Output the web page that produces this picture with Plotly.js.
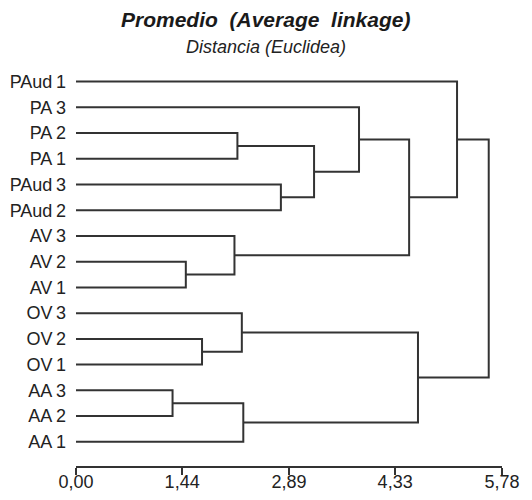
<!DOCTYPE html>
<html>
<head>
<meta charset="utf-8">
<script src="https://cdn.plot.ly/plotly-3.0.1.min.js"></script>
<style>html,body{margin:0;padding:0;background:#fff;}#chart{width:532px;height:500px;}</style>
</head>
<body>
<div id="chart"></div>
<script>
// Leaves, top to bottom
const leafLabels = ["PAud\u20091","PA\u20093","PA\u20092","PA\u20091","PAud\u20093","PAud\u20092","AV\u20093","AV\u20092","AV\u20091","OV\u20093","OV\u20092","OV\u20091","AA\u20093","AA\u20092","AA\u20091"];
// Merges: node ids 0..14 are leaves, 15+ are clusters in merge order
const mergeA = [2, 4, 15, 1, 7, 6, 18, 0, 10, 9, 12, 25, 24, 22];
const mergeB = [3, 5, 16, 17, 8, 19, 20, 21, 11, 23, 13, 14, 26, 27];
const mergeHeight = [2.19, 2.78, 3.23, 3.84, 1.49, 2.15, 4.52, 5.17, 1.71, 2.25, 1.31, 2.27, 4.64, 5.60];
// Axis ticks
const tickVals = [0, 1.44, 2.89, 4.33, 5.78];
const tickText = ["0,00", "1,44", "2,89", "4,33", "5,78"];

const n = leafLabels.length;
const nodeY = [], nodeH = [];
for (let i = 0; i < n; i++) { nodeY.push(i); nodeH.push(0); }
const xs = [], ys = [];
for (let k = 0; k < mergeA.length; k++) {
  const a = mergeA[k], b = mergeB[k], h = mergeHeight[k];
  xs.push(nodeH[a], h, h, nodeH[b], null);
  ys.push(nodeY[a], nodeY[a], nodeY[b], nodeY[b], null);
  nodeY.push((nodeY[a] + nodeY[b]) / 2);
  nodeH.push(h);
}

const FONT = '"Liberation Sans", Arial, sans-serif';
const trace = {
  x: xs, y: ys, type: 'scatter', mode: 'lines',
  line: {color: '#333333', width: 2}, hoverinfo: 'skip', showlegend: false
};
const layout = {
  width: 532, height: 500,
  margin: {l: 76, r: 30, t: 70, b: 34, pad: 0},
  paper_bgcolor: '#ffffff', plot_bgcolor: '#ffffff',
  font: {family: FONT, color: '#222222', size: 18},
  showlegend: false,
  xaxis: {
    range: [0, 5.78], tickvals: tickVals, ticktext: tickText,
    ticks: 'outside', ticklen: 7, tickwidth: 1.5, tickcolor: '#333333',
    showline: true, linecolor: '#333333', linewidth: 1.5,
    showgrid: false, zeroline: false, fixedrange: true,
    ticklabelstandoff: -8,
    tickfont: {family: FONT, size: 18, color: '#222222'}
  },
  yaxis: {
    range: [14.94, -0.45], tickvals: leafLabels.map((_, i) => i), ticktext: leafLabels,
    ticks: '', showline: false, showgrid: false, zeroline: false, fixedrange: true,
    ticklabelstandoff: 9,
    tickfont: {family: FONT, size: 18, color: '#222222'}
  },
  annotations: [
    {text: '<b><i>Promedio\u00a0\u00a0(Average\u00a0\u00a0linkage)</i></b>', xref: 'paper', yref: 'paper',
     x: 0.446, y: (466 - 20) / 396, xanchor: 'center', yanchor: 'middle', showarrow: false,
     font: {family: FONT, size: 21, color: '#1a1a1a'}},
    {text: '<i>Distancia (Euclidea)</i>', xref: 'paper', yref: 'paper',
     x: 0.446, y: (466 - 47) / 396, xanchor: 'center', yanchor: 'middle', showarrow: false,
     font: {family: FONT, size: 18, color: '#222222'}}
  ]
};
Plotly.newPlot('chart', [trace], layout, {displayModeBar: false, staticPlot: true});
</script>
</body>
</html>
